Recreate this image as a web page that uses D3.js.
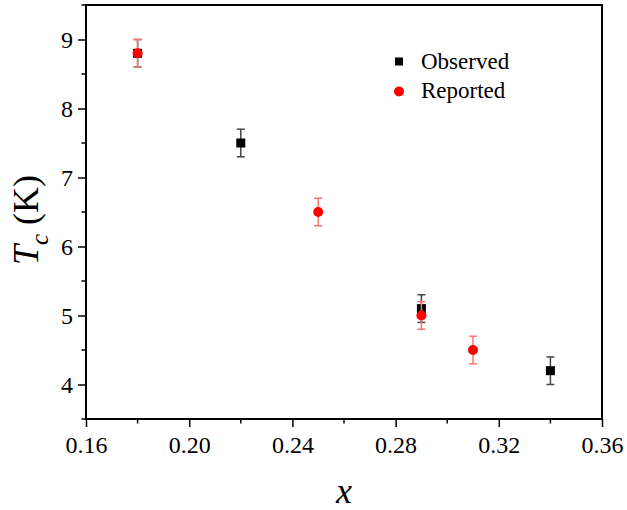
<!DOCTYPE html>
<html><head><meta charset="utf-8">
<script src="https://cdn.jsdelivr.net/npm/d3@7"></script>
<style>body{margin:0;background:#fff}svg{display:block}</style>
</head><body>
<script>
const obsX = [0.18, 0.22, 0.29, 0.34];
const obsY = [8.8, 7.5, 5.1, 4.2];
const obsErr = [0.2, 0.2, 0.2, 0.2];
const repX = [0.18, 0.25, 0.29, 0.31];
const repY = [8.8, 6.5, 5.0, 4.5];
const repErr = [0.2, 0.2, 0.2, 0.2];
const xTicks = [0.16, 0.20, 0.24, 0.28, 0.32, 0.36];
const yTicks = [4, 5, 6, 7, 8, 9];
const legendLabels = ["Observed", "Reported"];

const W = 627, H = 510;
const m = {left: 86, top: 5, right: 25, bottom: 91};
const iw = W - m.left - m.right, ih = H - m.top - m.bottom;
const svg = d3.select("body").append("svg").attr("width", W).attr("height", H);
const g = svg.append("g").attr("transform", `translate(${m.left},${m.top})`);
const x = d3.scaleLinear().domain([0.16, 0.36]).range([0, iw]);
const y = d3.scaleLinear().domain([3.5, 9.5]).range([ih, 0]);
const font = "'Liberation Serif','Times New Roman',serif";

// minor ticks
const xMinor = d3.range(0.18, 0.36, 0.04);
const yMinor = d3.range(3.5, 9.6, 1);
g.append("g").selectAll("line").data(xMinor).join("line")
  .attr("x1", d => x(d)).attr("x2", d => x(d)).attr("y1", ih).attr("y2", ih + 4.5)
  .attr("stroke", "#000").attr("stroke-width", 1.5);
g.append("g").selectAll("line").data(yMinor).join("line")
  .attr("y1", d => y(d)).attr("y2", d => y(d)).attr("x1", 0).attr("x2", -4.5)
  .attr("stroke", "#000").attr("stroke-width", 1.5);

const xAxis = g.append("g").attr("transform", `translate(0,${ih})`)
  .call(d3.axisBottom(x).tickValues(xTicks).tickFormat(d3.format(".2f")).tickSize(8).tickPadding(9));
const yAxis = g.append("g")
  .call(d3.axisLeft(y).tickValues(yTicks).tickFormat(d3.format("d")).tickSize(8).tickPadding(5));
[xAxis, yAxis].forEach(a => {
  a.attr("font-family", font).attr("font-size", 24);
  a.select(".domain").remove();
  a.selectAll("line").attr("stroke", "#000").attr("stroke-width", 1.5);
  a.selectAll("text").attr("font-family", font).attr("font-size", 24).attr("fill", "#000");
});
// frame
g.append("rect").attr("x", 0).attr("y", 0).attr("width", iw).attr("height", ih)
  .attr("fill", "none").attr("stroke", "#000").attr("stroke-width", 2);

function series(xs, ys, es, color, errColor, shape) {
  const data = xs.map((d, i) => ({x: d, y: ys[i], e: es[i]}));
  const eg = g.append("g").attr("stroke", errColor).attr("stroke-width", 1.5);
  data.forEach(d => {
    eg.append("line").attr("x1", x(d.x)).attr("x2", x(d.x)).attr("y1", y(d.y - d.e)).attr("y2", y(d.y + d.e));
    [d.y - d.e, d.y + d.e].forEach(v => eg.append("line")
      .attr("x1", x(d.x) - 4).attr("x2", x(d.x) + 4).attr("y1", y(v)).attr("y2", y(v)));
  });
  if (shape === "square") {
    g.append("g").selectAll("rect").data(data).join("rect")
      .attr("x", d => x(d.x) - 4.5).attr("y", d => y(d.y) - 4.5)
      .attr("width", 9).attr("height", 9).attr("fill", color);
  } else {
    g.append("g").selectAll("circle").data(data).join("circle")
      .attr("cx", d => x(d.x)).attr("cy", d => y(d.y)).attr("r", 5).attr("fill", color);
  }
}
series(obsX, obsY, obsErr, "#000", "#444", "square");
series(repX, repY, repErr, "#ff0000", "#ff7373", "circle");

// legend
const lg = svg.append("g");
lg.append("rect").attr("x", 395).attr("y", 57.5).attr("width", 8).attr("height", 8).attr("fill", "#000");
lg.append("circle").attr("cx", 399).attr("cy", 91.5).attr("r", 5).attr("fill", "#ff0000");
lg.selectAll("text").data(legendLabels).join("text")
  .attr("x", 421).attr("y", (d, i) => 69 + i * 29)
  .attr("font-family", font).attr("font-size", 23).attr("fill", "#000").text(d => d);

// axis titles
svg.append("text").attr("x", m.left + iw / 2).attr("y", 503).attr("text-anchor", "middle")
  .attr("font-family", font).attr("font-style", "italic").attr("font-size", 36).text("x");
const yt = svg.append("text").attr("transform", `translate(38,220) rotate(-90)`)
  .attr("text-anchor", "middle").attr("font-family", font).attr("font-size", 36);
yt.append("tspan").attr("font-style", "italic").text("T");
yt.append("tspan").attr("font-style", "italic").attr("font-size", 25).attr("dy", 10).text("c");
yt.append("tspan").attr("dy", -10).text(" (K)");
</script>
</body></html>
